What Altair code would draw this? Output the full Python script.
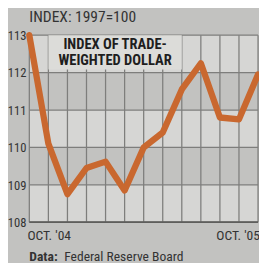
import altair as alt
import pandas as pd

# ---- data ----
months = list(range(13))                      # Oct '04 .. Oct '05
values = [113.0, 110.1, 108.75, 109.45, 109.62, 108.85, 110.0,
          110.4, 111.55, 112.25, 110.8, 110.75, 111.95]
y_ticks = [108, 109, 110, 111, 112, 113]
x_label_first = "OCT. '04"
x_label_last = "OCT. '05"
band_lo = [108, 110, 112]
band_hi = [109, 111, 113]
box_x = [1.0]
box_x2 = [8.0]
box_y = [113.0]
box_y2 = [112.08]
box_lines = ["INDEX OF TRADE-", "WEIGHTED DOLLAR"]
unit_title = "INDEX: 1997=100"
source_bold = "Data:"
source_rest = "Federal Reserve Board"

FONT = "Liberation Sans Narrow, Roboto Condensed, DejaVu Sans Condensed, sans-serif"
BG = "#c2c2c0"
BAND = "#d6d6d4"
GRID = "#7e7e7c"
LINE = "#c9682f"
TXT = "#333333"

line_df = pd.DataFrame({"m": months, "v": values})
band_df = pd.DataFrame({"lo": band_lo, "hi": band_hi, "x0": [0.0] * 3, "x1": [12.0] * 3})
vgrid_df = pd.DataFrame({"m": months})
hgrid_df = pd.DataFrame({"v": y_ticks})
box_df = pd.DataFrame({"x": box_x, "x2": box_x2, "y": box_y, "y2": box_y2})
box_txt_df = pd.DataFrame({"x": [(box_x[0] + box_x2[0]) / 2], "y": box_y, "t": ["\n".join(box_lines)]})
ylab_df = pd.DataFrame({"v": y_ticks, "t": [str(t) for t in y_ticks]})
xlab_first_df = pd.DataFrame({"m": [months[0]], "t": [x_label_first]})
xlab_last_df = pd.DataFrame({"m": [months[-1]], "t": [x_label_last]})

xscale = alt.Scale(domain=[0, 12], nice=False, zero=False)
yscale = alt.Scale(domain=[108, 113], nice=False, zero=False)


def X(f):
    return alt.X(f, scale=xscale, axis=None)


def Y(f):
    return alt.Y(f, scale=yscale, axis=None)


bands = alt.Chart(band_df).mark_rect(fill=BAND, opacity=1).encode(
    x=X("x0:Q"), x2="x1:Q", y=Y("lo:Q"), y2="hi:Q",
)
vgrid = alt.Chart(vgrid_df).mark_rule(stroke=GRID, strokeWidth=1.3).encode(x=X("m:Q"))
hgrid = alt.Chart(hgrid_df).mark_rule(stroke=GRID, strokeWidth=1.3).encode(y=Y("v:Q"))
base = alt.Chart(pd.DataFrame({"v": [y_ticks[0]]})).mark_rule(stroke="#5e5e5c", strokeWidth=1.8).encode(y=Y("v:Q"))
box = alt.Chart(box_df).mark_rect(fill="#dcdcd9", opacity=1).encode(
    x=X("x:Q"), x2="x2:Q", y=Y("y:Q"), y2="y2:Q",
)
line = alt.Chart(line_df).mark_line(color=LINE, strokeWidth=6.5, strokeJoin="round", strokeCap="round").encode(
    x=X("m:Q"), y=Y("v:Q"),
)
box_text = alt.Chart(box_txt_df).mark_text(
    font=FONT, fontSize=15, fontWeight="bold", color="#1e1e1e",
    lineBreak="\n", lineHeight=17, baseline="top", dy=2, align="center",
).encode(x=X("x:Q"), y=Y("y:Q"), text="t:N")
ylabels = alt.Chart(ylab_df).mark_text(
    font=FONT, fontSize=13, color=TXT, align="right", baseline="middle", dx=-3, dy=1
).encode(x=alt.value(0), y=Y("v:Q"), text="t:N")
xlab1 = alt.Chart(xlab_first_df).mark_text(
    font=FONT, fontSize=14, color=TXT, align="left", baseline="top", dx=-2, dy=7
).encode(x=X("m:Q"), y=alt.value(193), text="t:N")
xlab2 = alt.Chart(xlab_last_df).mark_text(
    font=FONT, fontSize=14, color=TXT, align="right", baseline="top", dx=2, dy=7
).encode(x=X("m:Q"), y=alt.value(193), text="t:N")
src1 = alt.Chart(pd.DataFrame({"t": [source_bold]})).mark_text(
    font=FONT, fontSize=14, fontWeight="bold", color=TXT, align="left", baseline="top"
).encode(x=alt.value(0), y=alt.value(222), text="t:N")
src2 = alt.Chart(pd.DataFrame({"t": [source_rest]})).mark_text(
    font=FONT, fontSize=14, color=TXT, align="left", baseline="top"
).encode(x=alt.value(36), y=alt.value(222), text="t:N")

chart = alt.layer(
    bands, vgrid, hgrid, base, box, line, box_text, ylabels, xlab1, xlab2, src1, src2
).properties(
    width=236, height=193,
    title=alt.TitleParams(unit_title, anchor="start", frame="group", font=FONT, fontSize=16,
                          fontWeight="normal", color=TXT, offset=6),
    autosize=alt.AutoSizeParams(type="none"),
    padding={"left": 22, "top": 24, "right": 1, "bottom": 38},
    background=BG,
).configure_view(stroke="transparent", fill=BG)

chart.save("out.html", embed_options={"renderer": "svg", "actions": False})
